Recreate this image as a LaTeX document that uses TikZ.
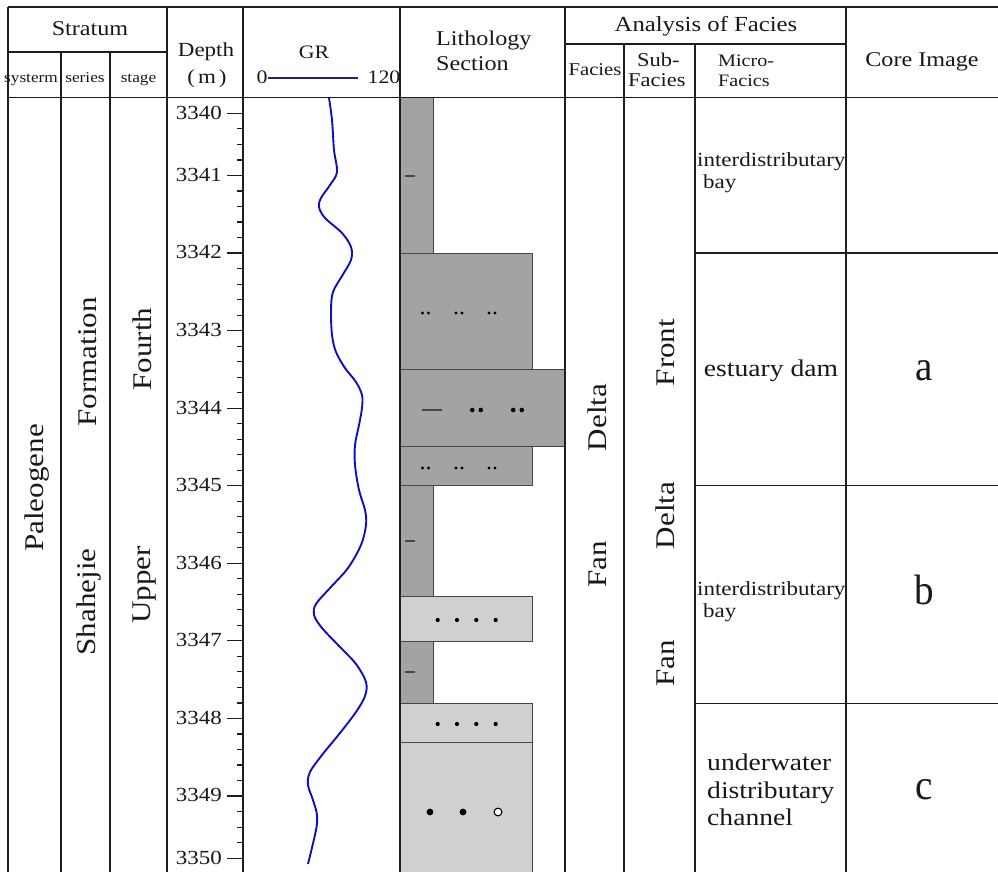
\documentclass[tikz,border=0pt]{standalone}
\usepackage{fontspec}
\setmainfont[FakeStretch=1.15]{Liberation Serif}
\definecolor{txt}{RGB}{25,25,25}
\definecolor{gridc}{RGB}{30,30,30}
\definecolor{darkrock}{RGB}{163,163,163}
\definecolor{lightrock}{RGB}{208,208,208}
\definecolor{rockedge}{RGB}{70,70,70}
\definecolor{grblue}{RGB}{15,15,190}
\definecolor{scalenavy}{RGB}{35,35,110}
\begin{document}
\begin{tikzpicture}[x=1pt,y=-1pt,
  gridline/.style={draw=gridc,line width=1.4pt},
  tk/.style={draw=gridc,line width=1.1pt},
  lbl/.style={inner sep=0pt,text=txt},
  fa/.style={font=\fontsize{15}{18}\selectfont},
  fb/.style={font=\fontsize{17.5}{21}\selectfont},
  fc/.style={font=\fontsize{19.5}{23}\selectfont},
  fd/.style={font=\fontsize{21}{25}\selectfont},
  fe/.style={font=\fontsize{24}{28}\selectfont},
  frot/.style={font=\fontsize{27}{32}\selectfont,rotate=90,anchor=base},
  fcore/.style={font=\fontsize{34}{40}\selectfont,anchor=base},
  rockd/.style={fill=darkrock,draw=rockedge,line width=0.9pt},
  rockl/.style={fill=lightrock,draw=rockedge,line width=0.9pt},
  dotc/.style={fill=black}
]
\useasboundingbox (0,0) rectangle (998,872);
\fill[white] (0,0) rectangle (998,872);

% ---------- lithology blocks ----------
\path[rockd] (400,97.5) rectangle (433,253);
\path[rockd] (400,253) rectangle (532,369.3);
\path[rockd] (400,369.3) rectangle (565,446.9);
\path[rockd] (400,446.9) rectangle (532,485.7);
\path[rockd] (400,485.7) rectangle (433,596);
\path[rockl] (400,596) rectangle (532,641);
\path[rockd] (400,641) rectangle (433,703.4);
\path[rockl] (400,703.4) rectangle (532,742.7);
\path[rockl] (400,742.7) rectangle (532,880);

% lithology symbols
\draw[rockedge,line width=1.3pt] (405,176) -- (415,176);
\draw[rockedge,line width=1.3pt] (405,541) -- (415,541);
\draw[rockedge,line width=1.3pt] (405,672) -- (415,672);
\draw[rockedge,line width=1.3pt] (422,410) -- (442,410);
\foreach \x in {425.5,459,492}{
  \fill[dotc] (\x-3,313) circle (1.7);
  \fill[dotc] (\x+3,313) circle (1.7);
  \fill[dotc] (\x-3,468) circle (1.7);
  \fill[dotc] (\x+3,468) circle (1.7);
}
\foreach \x in {476.5,517.5}{
  \fill[dotc] (\x-4.3,410) circle (2.3);
  \fill[dotc] (\x+4.3,410) circle (2.3);
}
\foreach \x in {437.7,457,476.3,495.7}{
  \fill[dotc] (\x,620) circle (2.1);
  \fill[dotc] (\x,724) circle (2.1);
}
\fill[dotc] (430,812) circle (3.4);
\fill[dotc] (463,812) circle (3.4);
\draw[black,line width=1.1pt,fill=white] (498,812) circle (3.9);

% ---------- GR curve ----------
\draw[grblue,line width=1.9pt,line join=round] plot[smooth,tension=0.55] coordinates {
 (329,98) (332,120) (334,150) (337,172) (330,185) (321,198) (319,207) (325,218) (342,233)
 (351,247) (351,260) (342,276) (333,292) (331,310) (332,335) (336,352) (345,368)
 (356,382) (362,395) (362,408) (359,425) (355,445) (355,465) (359,490) (365,510)
 (366,525) (361,545) (348,568) (330,588) (316,604) (314,615) (322,628) (340,647)
 (356,664) (366,682) (365,696) (356,712) (340,733) (322,755) (310,772) (308,785)
 (313,800) (317,815) (316,830) (308,864)};

% ---------- grid ----------
\draw[gridline] (8,7) -- (998,7);
\draw[gridline] (8,97.5) -- (998,97.5);
\draw[gridline] (8,52) -- (167,52);
\draw[gridline] (565,44) -- (846,44);
\draw[gridline] (8,7) -- (8,880);
\draw[gridline] (61,52) -- (61,880);
\draw[gridline] (110,52) -- (110,880);
\draw[gridline] (167,7) -- (167,880);
\draw[gridline] (243,7) -- (243,880);
\draw[gridline] (400,7) -- (400,880);
\draw[gridline] (565,7) -- (565,880);
\draw[gridline] (624,44) -- (624,880);
\draw[gridline] (695,44) -- (695,880);
\draw[gridline] (846,7) -- (846,880);
\draw[gridline] (695,253) -- (998,253);
\draw[gridline] (695,485.7) -- (998,485.7);
\draw[gridline] (695,703.4) -- (998,703.4);

% ---------- depth ticks ----------
\foreach \i in {1,...,49}{
  \pgfmathsetmacro\yy{97.9+\i*15.514}
  \draw[tk] (237,\yy) -- (243,\yy);
}
\foreach \i/\d in {1/3340,5/3341,10/3342,15/3343,20/3344,25/3345,30/3346,35/3347,40/3348,45/3349,49/3350}{
  \pgfmathsetmacro\yy{97.9+\i*15.514}
  \draw[tk] (227,\yy) -- (243,\yy);
  \node[lbl,font=\fontsize{20}{24}\selectfont,anchor=east] (dl\i) at (222,\yy-0.6) {\d};
}

% ---------- header text ----------
\node[lbl,fd,anchor=base] (hstratum) at (90,35.5) {Stratum};
\node[lbl,fa,anchor=base] (hsysterm) at (31,83) {systerm};
\node[lbl,fa,anchor=base] (hseries) at (85,83) {series};
\node[lbl,fa,anchor=base] (hstage) at (138.5,83) {stage};
\node[lbl,font=\fontsize{20}{24}\selectfont,anchor=base] (hdepth) at (206,57) {Depth};
\node[lbl,font=\fontsize{20}{24}\selectfont,anchor=base] (hm) at (207,84) {(\hspace{3pt}m\hspace{3pt})};
\node[lbl,font=\fontsize{19}{23}\selectfont,anchor=base] (hgr) at (314,59) {GR};
\node[lbl,font=\fontsize{19}{23}\selectfont,anchor=base] (hzero) at (262,84) {0};
\node[lbl,font=\fontsize{19}{23}\selectfont,anchor=base] (honetwenty) at (384,84) {120};
\draw[scalenavy,line width=1.5pt,shorten >=9pt] (hzero) -- (honetwenty);
\node[lbl,fd,anchor=base west] (hlith) at (436,46) {Lithology};
\node[lbl,fd,anchor=base west] (hsect) at (436,71) {Section};
\node[lbl,font=\fontsize{21.5}{26}\selectfont,anchor=base] (hanal) at (706,31.5) {Analysis of Facies};
\node[lbl,font=\fontsize{18}{22}\selectfont,anchor=base] (hfacies) at (595,76) {Facies};
\node[lbl,fc,anchor=base west] (hsub) at (637,66.5) {Sub-};
\node[lbl,fc,anchor=base west] (hsubfac) at (628,87) {Facies};
\node[lbl,fb,anchor=base west] (hmicro) at (718,66.5) {Micro-};
\node[lbl,fb,anchor=base west] (hmicrofac) at (718,87) {Facics};
\node[lbl,fd,anchor=base] (hcore) at (922,66.5) {Core Image};

% ---------- stratum / facies text ----------
\node[lbl,frot] (tpaleo) at (43,488) {Paleogene};
\node[lbl,frot] (tform) at (96,362) {Formation};
\node[lbl,frot] (tshah) at (95,602) {Shahejie};
\node[lbl,frot] (tfourth) at (151,349) {Fourth};
\node[lbl,frot] (tupper) at (150,585) {Upper};
\node[lbl,frot] (tdelta) at (606,417.5) {Delta};
\node[lbl,frot] (tfan) at (606,564) {Fan};
\node[lbl,frot] (tfront) at (674,352.5) {Front};
\node[lbl,frot] (tsubdelta) at (674,515.5) {Delta};
\node[lbl,frot] (tsubfan) at (674,663) {Fan};

% ---------- micro-facies ----------
\node[lbl,font=\fontsize{20}{24}\selectfont,anchor=base west] (mia) at (697,166) {interdistributary};
\node[lbl,font=\fontsize{20}{24}\selectfont,anchor=base west] (mib) at (703,188) {bay};
\node[lbl,fe,anchor=base] (mest) at (771,376) {estuary dam};
\node[lbl,font=\fontsize{20}{24}\selectfont,anchor=base west] (mic) at (697,595) {interdistributary};
\node[lbl,font=\fontsize{20}{24}\selectfont,anchor=base west] (mid) at (703,617) {bay};
\node[lbl,fe,anchor=base west] (mua) at (707,770) {underwater};
\node[lbl,fe,anchor=base west] (mub) at (707,798) {distributary};
\node[lbl,fe,anchor=base west] (muc) at (707,825) {channel};

% ---------- core image letters ----------
\node[lbl,fcore] (ca) at (924,380) {\scalebox{1}[1.25]{a}};
\node[lbl,fcore] (cb) at (924,604) {\scalebox{1}[1.25]{b}};
\node[lbl,fcore] (cc) at (924,799) {\scalebox{1}[1.25]{c}};
\end{tikzpicture}
\end{document}
